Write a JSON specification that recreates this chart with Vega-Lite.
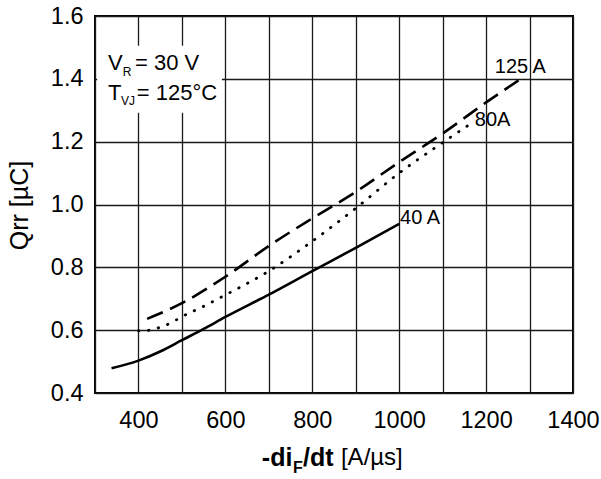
{
  "$schema": "https://vega.github.io/schema/vega-lite/v6.json",
  "width": 478,
  "height": 377,
  "autosize": {"type": "none"},
  "padding": {"left": 95, "top": 16, "right": 28, "bottom": 86},
  "background": "white",
  "config": {
    "font": "Liberation Sans",
    "view": {"stroke": "black", "strokeWidth": 2},
    "axis": {
      "domain": false,
      "ticks": false,
      "tickSize": 0,
      "grid": true,
      "gridColor": "#1a1a1a",
      "gridWidth": 1.3,
      "gridOpacity": 1,
      "labelFont": "Liberation Sans",
      "labelFontSize": 23.5,
      "labelColor": "black",
      "titleFont": "Liberation Sans",
      "titleColor": "black"
    }
  },
  "datasets": {
    "curves": [
      {"series": "40 A", "x": 338, "y": 0.479},
      {"series": "40 A", "x": 400, "y": 0.503},
      {"series": "40 A", "x": 450, "y": 0.532},
      {"series": "40 A", "x": 500, "y": 0.568},
      {"series": "40 A", "x": 550, "y": 0.604},
      {"series": "40 A", "x": 600, "y": 0.642},
      {"series": "40 A", "x": 700, "y": 0.713},
      {"series": "40 A", "x": 800, "y": 0.788},
      {"series": "40 A", "x": 900, "y": 0.862},
      {"series": "40 A", "x": 1000, "y": 0.938},
      {"series": "80A", "x": 400, "y": 0.598},
      {"series": "80A", "x": 420, "y": 0.599},
      {"series": "80A", "x": 440, "y": 0.605},
      {"series": "80A", "x": 460, "y": 0.614},
      {"series": "80A", "x": 480, "y": 0.627},
      {"series": "80A", "x": 500, "y": 0.643},
      {"series": "80A", "x": 550, "y": 0.676},
      {"series": "80A", "x": 600, "y": 0.712},
      {"series": "80A", "x": 700, "y": 0.788},
      {"series": "80A", "x": 800, "y": 0.883},
      {"series": "80A", "x": 900, "y": 0.988},
      {"series": "80A", "x": 1000, "y": 1.100},
      {"series": "80A", "x": 1100, "y": 1.197},
      {"series": "80A", "x": 1170, "y": 1.262},
      {"series": "125 A", "x": 420, "y": 0.636},
      {"series": "125 A", "x": 500, "y": 0.686},
      {"series": "125 A", "x": 600, "y": 0.770},
      {"series": "125 A", "x": 700, "y": 0.868},
      {"series": "125 A", "x": 800, "y": 0.956},
      {"series": "125 A", "x": 900, "y": 1.040},
      {"series": "125 A", "x": 1000, "y": 1.135},
      {"series": "125 A", "x": 1100, "y": 1.226},
      {"series": "125 A", "x": 1200, "y": 1.325},
      {"series": "125 A", "x": 1280, "y": 1.400}
    ],
    "curveLabels": [
      {"label": "125 A", "x": 1220, "y": 1.439},
      {"label": "80A", "x": 1174, "y": 1.269},
      {"label": "40 A", "x": 1002, "y": 0.956}
    ],
    "boxMain": [
      {"label": "V", "x": 330, "y": 1.449},
      {"label": "= 30 V", "x": 392, "y": 1.449},
      {"label": "T", "x": 330, "y": 1.354},
      {"label": "= 125°C", "x": 396, "y": 1.354}
    ],
    "boxSub": [
      {"label": "R", "x": 364, "y": 1.422},
      {"label": "VJ", "x": 360, "y": 1.330}
    ],
    "titleBold": [
      {"label": "-di", "x": 684, "y": 0.193},
      {"label": "/dt", "x": 778.6, "y": 0.193}
    ],
    "titleSub": [
      {"label": "F", "x": 755.6, "y": 0.16}
    ],
    "titleNormal": [
      {"label": "[A/µs]", "x": 866, "y": 0.193}
    ]
  },
  "encoding": {
    "x": {
      "field": "x",
      "type": "quantitative",
      "scale": {"domain": [300, 1400], "nice": false, "zero": false},
      "axis": {
        "title": null,
        "values": [300, 400, 500, 600, 700, 800, 900, 1000, 1100, 1200, 1300, 1400],
        "labelExpr": "datum.value % 200 == 0 ? datum.label : ''",
        "labelPadding": 15,
        "labelFlush": false,
        "format": "d"
      }
    },
    "y": {
      "field": "y",
      "type": "quantitative",
      "scale": {"domain": [0.4, 1.6], "nice": false, "zero": false},
      "axis": {
        "title": "Qrr [µC]",
        "titleFontSize": 25,
        "titleFontWeight": "normal",
        "titleX": -76,
        "titleY": 189,
        "titleAngle": -90,
        "titleBaseline": "middle",
        "titleAlign": "center",
        "values": [0.4, 0.6, 0.8, 1.0, 1.2, 1.4, 1.6],
        "format": ".1f",
        "labelPadding": 12,
        "labelFlush": false
      }
    }
  },
  "layer": [
    {
      "data": {"values": [{"x": 305, "x2": 592, "y": 1.292, "y2": 1.505}]},
      "mark": {"type": "rect", "fill": "white", "stroke": null},
      "encoding": {"x2": {"field": "x2"}, "y2": {"field": "y2"}}
    },
    {
      "data": {"name": "curves"},
      "transform": [{"filter": "datum.series == '40 A'"}],
      "mark": {"type": "line", "color": "black", "strokeWidth": 2.6, "interpolate": "monotone"}
    },
    {
      "data": {"name": "curves"},
      "transform": [{"filter": "datum.series == '80A'"}],
      "mark": {"type": "line", "color": "black", "strokeWidth": 2.8, "interpolate": "monotone", "strokeDash": [0.5, 9.5], "strokeCap": "round"}
    },
    {
      "data": {"name": "curves"},
      "transform": [{"filter": "datum.series == '125 A'"}],
      "mark": {"type": "line", "color": "black", "strokeWidth": 2.6, "interpolate": "monotone", "strokeDash": [17, 8]}
    },
    {
      "data": {"name": "curveLabels"},
      "mark": {"type": "text", "align": "left", "baseline": "middle", "fontSize": 20, "color": "black"},
      "encoding": {"text": {"field": "label"}}
    },
    {
      "data": {"name": "boxMain"},
      "mark": {"type": "text", "align": "left", "baseline": "middle", "fontSize": 22, "color": "black"},
      "encoding": {"text": {"field": "label"}}
    },
    {
      "data": {"name": "boxSub"},
      "mark": {"type": "text", "align": "left", "baseline": "middle", "fontSize": 12, "color": "black"},
      "encoding": {"text": {"field": "label"}}
    },
    {
      "data": {"name": "titleBold"},
      "mark": {"type": "text", "align": "left", "baseline": "middle", "fontSize": 25, "fontWeight": "bold", "color": "black"},
      "encoding": {"text": {"field": "label"}}
    },
    {
      "data": {"name": "titleSub"},
      "mark": {"type": "text", "align": "left", "baseline": "middle", "fontSize": 16, "fontWeight": "bold", "color": "black"},
      "encoding": {"text": {"field": "label"}}
    },
    {
      "data": {"name": "titleNormal"},
      "mark": {"type": "text", "align": "left", "baseline": "middle", "fontSize": 24, "color": "black"},
      "encoding": {"text": {"field": "label"}}
    }
  ]
}
